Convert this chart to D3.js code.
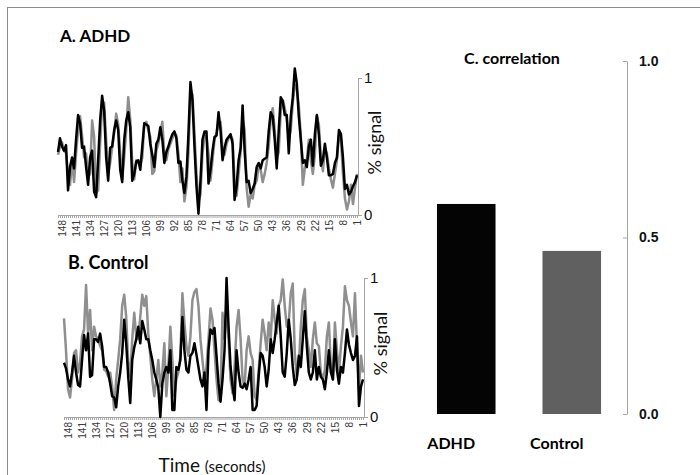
<!DOCTYPE html>
<meta charset="utf-8">
<style>
    body { margin: 0; background: #fff; }
    svg { font-family: Lato, "Open Sans", sans-serif; }
    .title { font-weight: bold; fill: #000; }
    .axis path, .axis line { stroke: #a6a6a6; }
    .ticklabel text { font-size: 10px; fill: #3a3a3a; }
    .line { fill: none; stroke-width: 2.5px; stroke-linejoin: round; }
</style>
<svg width="700" height="475"></svg>
<script src="https://d3js.org/d3.v7.min.js"></script>
<script>

    // time runs 150 .. 1 from left to right
    const nPoints = 150;
    const timeLabels = [148, 141, 134, 127, 120, 113, 106, 99, 92, 85, 78, 71, 64, 57, 50, 43, 36, 29, 22, 15, 8, 1];

    const adhdBlack = [
        0.46, 0.56, 0.50, 0.47, 0.51, 0.18, 0.35, 0.42, 0.34, 0.55,
        0.73, 0.67, 0.49, 0.50, 0.35, 0.22, 0.42, 0.47, 0.17, 0.13,
        0.40, 0.69, 0.87, 0.76, 0.42, 0.25, 0.49, 0.50, 0.62, 0.69,
        0.62, 0.33, 0.24, 0.55, 0.69, 0.75, 0.64, 0.25, 0.30, 0.39,
        0.40, 0.33, 0.50, 0.67, 0.66, 0.65, 0.52, 0.44, 0.35, 0.52,
        0.55, 0.64, 0.55, 0.38, 0.46, 0.50, 0.55, 0.59, 0.61, 0.56,
        0.38, 0.39, 0.25, 0.16, 0.28, 0.59, 0.97, 0.84, 0.50, 0.21,
        0.01, 0.25, 0.55, 0.61, 0.61, 0.23, 0.33, 0.47, 0.57, 0.58,
        0.75, 0.62, 0.40, 0.49, 0.55, 0.57, 0.59, 0.52, 0.11, 0.21,
        0.40, 0.49, 0.80, 0.47, 0.24, 0.25, 0.16, 0.19, 0.23, 0.35,
        0.38, 0.34, 0.40, 0.41, 0.42, 0.61, 0.75, 0.72, 0.55, 0.34,
        0.62, 0.86, 0.83, 0.73, 0.73, 0.45, 0.72, 0.86, 1.07, 0.96,
        0.72, 0.55, 0.38, 0.40, 0.35, 0.50, 0.55, 0.36, 0.59, 0.73,
        0.59, 0.36, 0.40, 0.52, 0.42, 0.29, 0.29, 0.30, 0.38, 0.42,
        0.62, 0.59, 0.42, 0.19, 0.22, 0.15, 0.17, 0.21, 0.24, 0.29
    ];

    const adhdGray = [
        0.44, 0.50, 0.53, 0.47, 0.45, 0.30, 0.22, 0.40, 0.24, 0.45,
        0.62, 0.72, 0.58, 0.42, 0.45, 0.28, 0.30, 0.69, 0.57, 0.16,
        0.18, 0.52, 0.80, 0.82, 0.55, 0.30, 0.38, 0.49, 0.60, 0.74,
        0.66, 0.45, 0.26, 0.42, 0.62, 0.86, 0.70, 0.38, 0.26, 0.40,
        0.38, 0.36, 0.42, 0.66, 0.68, 0.62, 0.57, 0.30, 0.32, 0.47,
        0.52, 0.60, 0.68, 0.44, 0.40, 0.48, 0.52, 0.56, 0.60, 0.58,
        0.45, 0.24, 0.34, 0.10, 0.20, 0.45, 0.90, 0.88, 0.60, 0.30,
        0.10, 0.15, 0.45, 0.58, 0.57, 0.45, 0.25, 0.40, 0.55, 0.60,
        0.66, 0.68, 0.48, 0.44, 0.52, 0.56, 0.58, 0.55, 0.25, 0.14,
        0.30, 0.46, 0.70, 0.62, 0.20, 0.06, 0.15, 0.12, 0.22, 0.25,
        0.36, 0.33, 0.24, 0.30, 0.38, 0.50, 0.70, 0.78, 0.62, 0.40,
        0.46, 0.76, 0.84, 0.78, 0.70, 0.55, 0.62, 0.82, 0.95, 0.92,
        0.80, 0.58, 0.22, 0.34, 0.40, 0.55, 0.40, 0.30, 0.44, 0.72,
        0.66, 0.42, 0.32, 0.48, 0.45, 0.34, 0.26, 0.20, 0.30, 0.40,
        0.58, 0.55, 0.30, 0.12, 0.04, 0.10, 0.22, 0.08, 0.20, 0.30
    ];

    const controlBlack = [
        0.39, 0.35, 0.27, 0.22, 0.32, 0.44, 0.32, 0.23, 0.22, 0.41,
        0.59, 0.48, 0.60, 0.29, 0.30, 0.56, 0.56, 0.54, 0.60, 0.51,
        0.36, 0.36, 0.32, 0.24, 0.15, 0.14, 0.07, 0.22, 0.32, 0.46,
        0.70, 0.53, 0.29, 0.10, 0.41, 0.50, 0.56, 0.65, 0.53, 0.69,
        0.63, 0.56, 0.56, 0.48, 0.41, 0.32, 0.27, 0.21, 0.00, 0.24,
        0.32, 0.36, 0.32, 0.48, 0.05, 0.05, 0.36, 0.34, 0.41, 0.72,
        0.48, 0.34, 0.32, 0.44, 0.46, 0.53, 0.45, 0.36, 0.27, 0.22,
        0.32, 0.05, 0.48, 0.63, 0.60, 0.64, 0.44, 0.24, 0.11, 0.27,
        0.48, 1.00, 0.65, 0.36, 0.22, 0.12, 0.48, 0.32, 0.22, 0.21,
        0.24, 0.20, 0.27, 0.36, 0.05, 0.05, 0.08, 0.29, 0.46, 0.44,
        0.36, 0.22, 0.34, 0.56, 0.46, 0.56, 0.68, 0.80, 0.58, 0.32,
        0.29, 0.46, 0.70, 0.56, 0.36, 0.23, 0.27, 0.44, 0.36, 0.56,
        0.76, 0.51, 0.32, 0.27, 0.32, 0.48, 0.27, 0.36, 0.29, 0.27,
        0.20, 0.32, 0.48, 0.32, 0.27, 0.56, 0.34, 0.24, 0.36, 0.32,
        0.46, 0.63, 0.52, 0.46, 0.41, 0.44, 0.58, 0.08, 0.22, 0.27
    ];

    const controlGray = [
        0.71, 0.48, 0.20, 0.14, 0.27, 0.46, 0.48, 0.32, 0.39, 0.58,
        0.63, 0.95, 0.60, 0.77, 0.48, 0.65, 0.58, 0.56, 0.51, 0.48,
        0.34, 0.33, 0.29, 0.32, 0.22, 0.05, 0.27, 0.41, 0.56, 0.80,
        0.88, 0.72, 0.39, 0.29, 0.56, 0.75, 0.58, 0.56, 0.72, 0.88,
        0.80, 0.87, 0.60, 0.44, 0.27, 0.15, 0.27, 0.41, 0.22, 0.32,
        0.53, 0.15, 0.36, 0.65, 0.41, 0.15, 0.27, 0.32, 0.44, 0.89,
        0.68, 0.51, 0.44, 0.58, 0.84, 0.90, 0.92, 0.80, 0.56, 0.41,
        0.27, 0.36, 0.56, 0.78, 0.70, 0.48, 0.27, 0.12, 0.17, 0.75,
        0.56, 0.80, 0.56, 0.27, 0.17, 0.36, 0.65, 0.77, 0.56, 0.27,
        0.22, 0.48, 0.58, 0.46, 0.41, 0.15, 0.12, 0.34, 0.53, 0.70,
        0.60, 0.48, 0.68, 0.56, 0.84, 0.70, 0.60, 0.80, 0.84, 0.99,
        0.80, 0.65, 0.68, 0.89, 0.96, 0.46, 0.29, 0.36, 0.65, 0.84,
        0.92, 0.58, 0.48, 0.36, 0.56, 0.68, 0.53, 0.51, 0.32, 0.27,
        0.34, 0.58, 0.68, 0.36, 0.27, 0.68, 0.48, 0.32, 0.51, 0.65,
        0.94, 0.84, 0.80, 0.68, 0.58, 0.89, 0.51, 0.20, 0.44, 0.32
    ];

    const groups = ["ADHD", "Control"];
    const correlation = [0.595, 0.462];
    const corrTicks = [0.0, 0.5, 1.0];

    const svg = d3.select("svg");

    // frame lines (top and left only)
    svg.append("line").attr("x1", 7).attr("x2", 700).attr("y1", 7.5).attr("y2", 7.5)
        .attr("stroke", "#8a8a8a");
    svg.append("line").attr("x1", 7.5).attr("x2", 7.5).attr("y1", 7).attr("y2", 475)
        .attr("stroke", "#8a8a8a");

    function timePanel(opt) {
        const x = d3.scaleLinear().domain([nPoints, 1]).range([opt.x0, opt.x1]);
        const y = d3.scaleLinear().domain([0, 1]).range([opt.yBottom, opt.yTop]);
        const g = svg.append("g");

        // minor ticks at every sample
        g.append("g")
            .attr("class", "axis")
            .attr("transform", "translate(0," + opt.yBottom + ")")
            .call(d3.axisBottom(x).tickValues(d3.range(1, nPoints + 1)).tickSize(3).tickSizeOuter(0).tickFormat(""));

        // rotated time labels
        g.append("g")
            .attr("class", "ticklabel")
            .attr("transform", "translate(0," + opt.yBottom + ")")
            .call(d3.axisBottom(x).tickValues(timeLabels).tickSize(0).tickPadding(0))
            .call(s => s.select(".domain").remove())
            .selectAll("text")
                .attr("transform", "rotate(-90)")
                .attr("text-anchor", "end")
                .attr("x", -5)
                .attr("y", 0)
                .attr("dy", "0.32em");

        // right-hand axis
        g.append("g")
            .attr("class", "axis")
            .attr("transform", "translate(" + (opt.x1 + 1) + ",0)")
            .call(d3.axisRight(y).tickValues([0, 1]).tickSize(4).tickSizeOuter(0).tickPadding(3).tickFormat(d3.format("d")))
            .call(s => s.selectAll("text").attr("fill", "#111").style("font-size", "15px").attr("x", 6));

        g.append("text")
            .attr("transform", "translate(" + (opt.x1 + 24) + "," + ((opt.yTop + opt.yBottom) / 2 - 4) + ") rotate(-90)")
            .attr("text-anchor", "middle")
            .style("font-size", "18px")
            .attr("fill", "#111")
            .text("% signal");

        const line = d3.line()
            .x((d, i) => x(nPoints - i))
            .y(d => y(d));

        g.append("path").datum(opt.gray).attr("class", "line").attr("stroke", "#8f8f8f").attr("d", line);
        g.append("path").datum(opt.black).attr("class", "line").attr("stroke", "#000").attr("d", line);

        svg.append("text")
            .attr("class", "title")
            .attr("x", opt.titleX).attr("y", opt.titleY)
            .style("font-size", opt.titleSize)
            .text(opt.title);
    }

    timePanel({ x0: 58, x1: 357, yTop: 78, yBottom: 215, black: adhdBlack, gray: adhdGray,
        title: "A. ADHD", titleX: 60, titleY: 42, titleSize: "17px" });
    timePanel({ x0: 64, x1: 363, yTop: 278, yBottom: 417, black: controlBlack, gray: controlGray,
        title: "B. Control", titleX: 68, titleY: 269, titleSize: "18px" });

    const timeLabel = svg.append("text")
        .attr("x", 212).attr("y", 472)
        .attr("text-anchor", "middle")
        .attr("fill", "#111");
    timeLabel.append("tspan").style("font-size", "19px").text("Time ");
    timeLabel.append("tspan").style("font-size", "15px").text("(seconds)");

    // panel C: correlation bars
    const xc = d3.scaleBand().domain(groups).range([390, 648]).paddingInner(0.445).paddingOuter(0.445);
    const yc = d3.scaleLinear().domain([0, 1]).range([414, 61]);

    svg.append("g")
        .attr("class", "axis")
        .attr("transform", "translate(627,0)")
        .call(d3.axisRight(yc).tickValues(corrTicks).tickSize(-4).tickSizeOuter(0).tickPadding(12).tickFormat(d3.format(".1f")))
        .call(s => s.selectAll("text").attr("fill", "#111").style("font-size", "14px").style("font-weight", "bold"));

    svg.selectAll(".bar")
        .data(groups)
        .join("rect")
            .attr("class", "bar")
            .attr("x", d => xc(d))
            .attr("width", xc.bandwidth())
            .attr("y", (d, i) => yc(correlation[i]))
            .attr("height", (d, i) => yc(0) - yc(correlation[i]))
            .attr("fill", (d, i) => i === 0 ? "#040404" : "#606060");

    svg.selectAll(".group-label")
        .data(groups)
        .join("text")
            .attr("class", "title group-label")
            .attr("x", d => xc(d) + xc.bandwidth() / 2 - 15)
            .attr("y", 449)
            .attr("text-anchor", "middle")
            .style("font-size", "16px")
            .text(d => d);

    svg.append("text")
        .attr("class", "title")
        .attr("x", 512).attr("y", 64)
        .attr("text-anchor", "middle")
        .style("font-size", "16px")
        .text("C. correlation");

</script>
